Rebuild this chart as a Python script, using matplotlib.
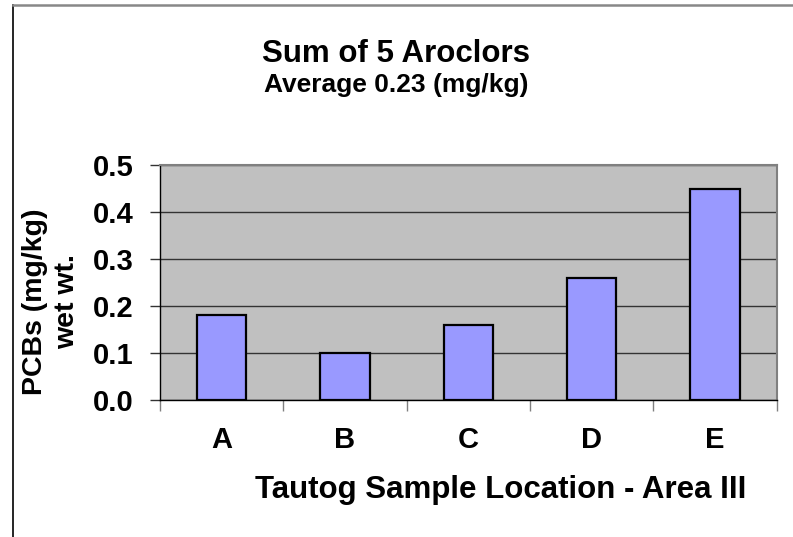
import matplotlib
matplotlib.use("Agg")
import matplotlib.pyplot as plt
from matplotlib.lines import Line2D

plt.rcParams['font.family'] = ['Liberation Sans', 'DejaVu Sans']
plt.rcParams['font.weight'] = 'bold'

# Data
locations = ['A', 'B', 'C', 'D', 'E']
pcb_values = [0.18, 0.10, 0.16, 0.26, 0.45]
y_ticks = [0.0, 0.1, 0.2, 0.3, 0.4, 0.5]

W, H = 793, 537
fig = plt.figure(figsize=(W / 100, H / 100), dpi=100)
fig.patch.set_facecolor('white')

# Plot area
ax = fig.add_axes([160 / W, 1 - 400 / H, 616.7 / W, 235 / H])
ax.set_facecolor('#C0C0C0')
x = list(range(len(locations)))
ax.bar(x, pcb_values, width=0.4, color='#9999FF', edgecolor='black',
       linewidth=1.6, zorder=3)

ax.set_xlim(-0.5, len(locations) - 0.5)
ax.set_ylim(0, 0.5)
ax.set_yticks(y_ticks)
ax.set_yticklabels([f"{v:.1f}" for v in y_ticks], fontsize=21, fontweight='bold')
ax.yaxis.grid(True, color='#333333', linewidth=1.0, zorder=1)
ax.set_axisbelow(True)

# category labels in the middle, tick marks on category boundaries
ax.set_xticks(x)
ax.set_xticklabels(locations, fontsize=21, fontweight='bold')
ax.tick_params(axis='x', which='major', length=0, pad=19)
ax.set_xticks([i - 0.5 for i in range(len(locations) + 1)], minor=True)
ax.tick_params(axis='x', which='minor', length=8, width=1, color='#808080',
               direction='out')
ax.tick_params(axis='y', length=7, width=1, color='#333333', direction='out', pad=12)

for side in ['top', 'right']:
    ax.spines[side].set_color('#808080')
    ax.spines[side].set_linewidth(1.5)
for side in ['left', 'bottom']:
    ax.spines[side].set_color('black')
    ax.spines[side].set_linewidth(1.0)

# Titles and labels
fig.text(0.5, 1 - 62 / H, 'Sum of 5 Aroclors', ha='center', va='baseline',
         fontsize=22.5, fontweight='bold')
fig.text(0.5, 1 - 92 / H, 'Average 0.23 (mg/kg)', ha='center', va='baseline',
         fontsize=19, fontweight='bold')
fig.text(500.5 / W, 1 - 498 / H, 'Tautog Sample Location - Area III', ha='center',
         va='baseline', fontsize=22.5, fontweight='bold')
fig.text(51 / W, 1 - 302 / H, 'PCBs (mg/kg)\nwet wt.', rotation=90, ha='center',
         va='center', multialignment='center', fontsize=20.5, fontweight='bold',
         linespacing=1.3)

# frame lines of the original slide
fig.add_artist(Line2D([12.5 / W, 12.5 / W], [0, 1 - 5 / H], color='black',
                      linewidth=1.2, transform=fig.transFigure))
fig.add_artist(Line2D([12.5 / W, 1], [1 - 5 / H, 1 - 5 / H], color='#888888',
                      linewidth=1.8, transform=fig.transFigure))

fig.savefig('out.png', dpi=100)
